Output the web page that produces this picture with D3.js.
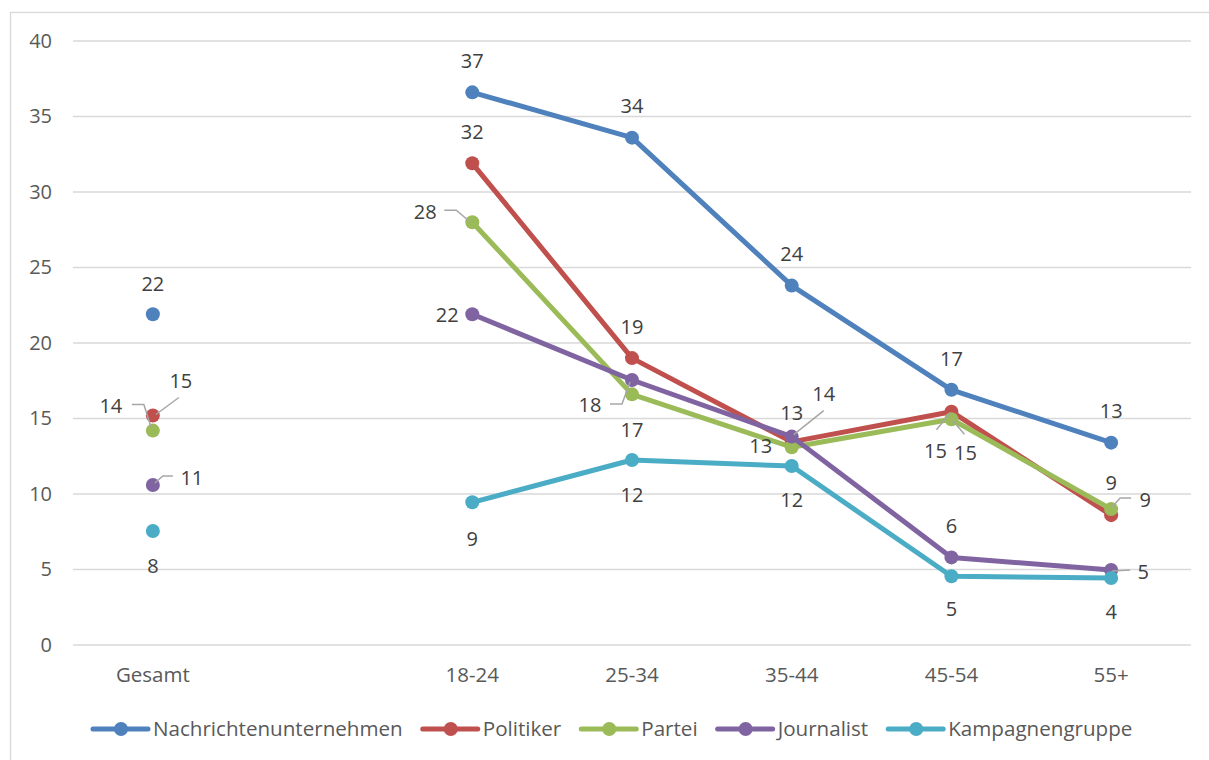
<!DOCTYPE html>
<html>
<head>
<meta charset="utf-8">
<script src="https://cdn.jsdelivr.net/npm/d3@7"></script>
<style>
  body { margin: 0; background: #fff; }
  svg { font-family: "Open Sans", "Noto Sans", sans-serif; }
</style>
</head>
<body>
<svg id="chart"></svg>
<script>
var width = 1209, height = 760;

// data
var categories = ["Gesamt", "", "18-24", "25-34", "35-44", "45-54", "55+"];
var seriesNames = ["Nachrichtenunternehmen", "Politiker", "Partei", "Journalist", "Kampagnengruppe"];
var nachrichten = [21.9, null, 36.6, 33.6, 23.8, 16.9, 13.4];
var politiker   = [15.2, null, 31.9, 19.0, 13.45, 15.45, 8.6];
var partei      = [14.2, null, 28.0, 16.6, 13.1, 14.95, 9.0];
var journalist  = [10.6, null, 21.9, 17.55, 13.8, 5.8, 4.97];
var kampagne    = [7.55, null, 9.45, 12.25, 11.85, 4.55, 4.44];
var yTicks = [0, 5, 10, 15, 20, 25, 30, 35, 40];

var colors = ["#4f81bd", "#c0504d", "#9bbb59", "#8064a2", "#4bacc6"];

// label placement: [dx, dy, leader points] relative to the marker
var labelPlace = [
  [[0,-31],null,[0,-32],[0,-32],[0,-32],[0,-31],[0,-32]],
  [[28,-35,[[26,-18],[3,-1]]],null,[0,-32],[0,-31],[0,-29],[-16,39,[[-15,18],[-1,1]]],[0,-32]],
  [[-42,-25,[[-21,-26],[-9,-26],[-2,-4]]],null,[-47,-10,[[-28,-12],[-16,-12],[-3,-1]]],[0,35],[-31,-1],[14,34,[[13,15],[1,1]]],[34,-9,[[20,-11],[9,-11],[1,-2]]]],
  [[39,-7,[[20,-9],[10,-9],[2,-2]]],null,[-25,0],[-42,25,[[-22,24],[-10,24],[-2,2]]],[32,-43,[[32,-26],[2,-2]]],[0,-32],[32,2,[[19,0],[1,1]]]],
  [[0,35],null,[0,36],[0,35],[0,34],[0,33],[0,34]]
];

var allValues = [nachrichten, politiker, partei, journalist, kampagne];

var margin = {top: 41, right: 18, bottom: 115, left: 73};

var svg = d3.select("#chart").attr("width", width).attr("height", height);

svg.append("rect")
    .attr("x", 10.5).attr("y", 12.5)
    .attr("width", width + 10).attr("height", height + 10)
    .attr("fill", "#fff").attr("stroke", "#d9d9d9").attr("stroke-width", 1.3);

var x = d3.scaleBand()
    .domain(categories)
    .range([margin.left, width - margin.right]);

var y = d3.scaleLinear()
    .domain([0, 40])
    .range([height - margin.bottom, margin.top]);

var cx = function(i) { return x(categories[i]) + x.bandwidth() / 2; };

// gridlines
svg.append("g")
  .selectAll("line")
  .data(yTicks)
  .join("line")
    .attr("x1", margin.left).attr("x2", width - margin.right)
    .attr("y1", function(d) { return y(d); })
    .attr("y2", function(d) { return y(d); })
    .attr("stroke", "#d9d9d9")
    .attr("stroke-width", 1.5);

// y axis labels
var yAxis = d3.axisLeft(y).tickValues(yTicks).tickSize(0).tickPadding(21);
svg.append("g")
    .attr("transform", "translate(" + margin.left + ",0)")
    .call(yAxis)
    .call(function(g) { g.select(".domain").remove(); })
    .selectAll("text")
    .attr("font-size", 20)
    .attr("font-family", "Open Sans")
    .attr("fill", "#595959");

// x axis labels
var xAxis = d3.axisBottom(x).tickSize(0).tickPadding(22);
svg.append("g")
    .attr("transform", "translate(0," + (height - margin.bottom) + ")")
    .call(xAxis)
    .call(function(g) { g.select(".domain").remove(); })
    .selectAll("text")
    .attr("font-size", 20.5)
    .attr("font-family", "Open Sans")
    .attr("fill", "#595959");

var line = d3.line()
    .defined(function(d, i) { return d != null && i > 0; })
    .x(function(d, i) { return cx(i); })
    .y(function(d) { return y(d); });

allValues.forEach(function(vals, s) {
  var g = svg.append("g");
  g.append("path")
      .datum(vals)
      .attr("d", line)
      .attr("fill", "none")
      .attr("stroke", colors[s])
      .attr("stroke-width", 5)
      .attr("stroke-linejoin", "round")
      .attr("stroke-linecap", "round");
  g.selectAll("circle")
    .data(vals.map(function(v, i) { return {v: v, i: i}; }).filter(function(d) { return d.v != null; }))
    .join("circle")
      .attr("cx", function(d) { return cx(d.i); })
      .attr("cy", function(d) { return y(d.v); })
      .attr("r", 7)
      .attr("fill", colors[s]);
});

// data labels with leader lines
var labels = svg.append("g");
allValues.forEach(function(vals, s) {
  vals.forEach(function(v, i) {
    if (v == null) return;
    var p = labelPlace[s][i];
    var px = cx(i), py = y(v);
    if (p[2]) {
      labels.append("polyline")
          .attr("points", p[2].map(function(q) { return (px + q[0]) + "," + (py + q[1]); }).join(" "))
          .attr("fill", "none")
          .attr("stroke", "#a6a6a6")
          .attr("stroke-width", 1.5);
    }
    labels.append("text")
        .attr("x", px + p[0])
        .attr("y", py + p[1])
        .attr("dy", "0.36em")
        .attr("text-anchor", "middle")
        .attr("font-size", 20)
        .attr("fill", "#404040")
        .text(Math.round(v));
  });
});

// legend
var legend = svg.append("g").attr("transform", "translate(0,729)");
var lx = 93;
seriesNames.forEach(function(name, s) {
  var item = legend.append("g").attr("transform", "translate(" + lx + ",0)");
  item.append("line")
      .attr("x1", 0).attr("x2", 55).attr("y1", 0).attr("y2", 0)
      .attr("stroke", colors[s]).attr("stroke-width", 5).attr("stroke-linecap", "round");
  item.append("circle").attr("cx", 28).attr("cy", 0).attr("r", 7).attr("fill", colors[s]);
  var t = item.append("text")
      .attr("x", 60).attr("dy", "0.36em")
      .attr("font-size", 20.6)
      .attr("fill", "#595959")
      .text(name);
  lx += 60 + t.node().getComputedTextLength() + 20;
});
</script>
</body>
</html>
